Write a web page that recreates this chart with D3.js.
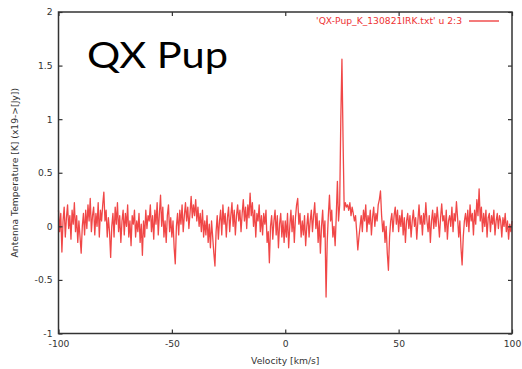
<!DOCTYPE html>
<html>
<head>
<meta charset="utf-8">
<script src="https://cdn.jsdelivr.net/npm/d3@7"></script>
<style>
  body { margin: 0; background: #fff; }
  svg { display: block; }
  .tick-label { font-family: "DejaVu Sans", "Liberation Sans", sans-serif; font-size: 9.2px; fill: #333; }
</style>
</head>
<body>
<svg class="svg"></svg>
<script>
// velocity grid: -100 .. 100 km/s in 0.5 km/s channels
const vStart = -100;
const vStep = 0.5;

// antenna temperature per channel (20 channels per row = 10 km/s)
const temps = [
  0.15, -0.05, 0.12, -0.24, 0.05, 0.18, -0.1, 0.08, 0.2, -0.02, 0.1, -0.12, 0.15, 0.02, 0.22, -0.05, 0.1, -0.15, 0.05, -0.1,
  -0.25, 0.0, 0.12, -0.08, 0.15, -0.02, 0.2, 0.05, 0.26, -0.05, 0.1, 0.18, -0.08, 0.12, 0.0, 0.22, -0.1, 0.15, 0.05, 0.2,
  0.32, 0.05, 0.15, -0.1, 0.08, -0.05, -0.29, 0.0, 0.12, -0.1, 0.18, 0.02, 0.22, -0.05, 0.1, -0.15, 0.05, 0.15, -0.08, 0.12,
  0.0, 0.2, -0.1, 0.05, -0.18, 0.1, 0.02, 0.15, -0.1, 0.05, -0.05, 0.12, -0.15, 0.02, -0.27, 0.05, -0.1, 0.15, -0.02, 0.1,
  0.05, 0.2, -0.05, 0.1, -0.12, 0.15, 0.02, 0.22, -0.08, 0.12, 0.29, 0.0, 0.18, -0.1, 0.05, -0.15, 0.1, 0.2, -0.05, 0.08,
  -0.1, 0.05, -0.2, -0.35, 0.0, 0.12, -0.08, 0.15, 0.02, 0.2, -0.05, 0.1, 0.22, 0.05, 0.18, -0.02, 0.12, 0.28, 0.08, 0.2,
  0.1, 0.25, 0.05, 0.18, 0.0, 0.12, -0.05, 0.15, -0.1, 0.05, -0.08, 0.1, -0.15, 0.02, -0.2, 0.05, -0.1, -0.25, -0.37, -0.05,
  0.1, -0.12, 0.05, 0.15, -0.08, 0.2, 0.02, 0.12, -0.1, 0.08, 0.18, -0.05, 0.1, 0.22, 0.0, 0.15, -0.08, 0.1, 0.2, 0.05,
  0.15, -0.05, 0.12, 0.25, 0.05, 0.18, -0.02, 0.2, 0.08, 0.31, 0.1, 0.22, 0.0, 0.15, -0.1, 0.12, 0.05, 0.2, -0.05, 0.1,
  -0.08, 0.12, 0.02, 0.15, -0.15, -0.05, -0.34, 0.0, 0.1, -0.12, 0.05, 0.15, -0.08, 0.1, -0.2, 0.02, 0.12, -0.1, 0.05, -0.15,
  0.05, -0.1, 0.12, -0.2, 0.0, 0.15, -0.05, 0.1, -0.15, 0.08, 0.2, 0.26, 0.02, 0.12, -0.1, 0.05, -0.08, 0.1, -0.18, 0.0,
  0.12, -0.1, 0.05, 0.15, -0.05, 0.1, 0.22, -0.02, 0.12, -0.15, 0.05, -0.25, 0.0, 0.15, -0.1, 0.05, -0.66, -0.15, 0.1, 0.29,
  0.05, 0.15, -0.1, 0.0, -0.18, 0.1, 0.42, 0.05, 0.2, 1.0, 1.56, 0.8, 0.15, 0.22, 0.18, 0.2, 0.15, 0.22, 0.1, 0.18,
  0.12, 0.05, 0.1, -0.05, -0.22, -0.1, 0.0, 0.1, -0.05, 0.15, 0.05, 0.2, -0.05, 0.1, 0.02, 0.15, -0.08, 0.08, 0.18, 0.0,
  0.12, 0.05, 0.2, 0.25, 0.33, 0.1, -0.05, 0.05, -0.15, 0.0, -0.25, -0.41, -0.1, 0.05, 0.12, -0.05, 0.1, 0.18, 0.02, 0.15,
  -0.05, 0.1, 0.0, 0.15, -0.08, 0.08, -0.15, 0.05, 0.12, -0.02, 0.1, -0.1, 0.05, 0.15, 0.0, 0.08, -0.12, 0.05, 0.2, 0.02,
  0.1, -0.08, 0.12, 0.02, 0.22, 0.05, -0.05, 0.1, -0.15, 0.05, 0.15, -0.02, 0.12, 0.0, 0.18, 0.05, -0.1, 0.08, 0.21, 0.05,
  0.1, -0.05, 0.15, -0.12, 0.05, 0.1, 0.0, 0.18, -0.05, 0.12, 0.05, 0.23, 0.08, -0.1, 0.05, -0.2, -0.36, -0.1, 0.05, 0.12,
  0.0, 0.15, -0.05, 0.2, 0.05, 0.12, -0.08, 0.15, 0.02, 0.25, 0.1, 0.35, 0.05, 0.18, -0.05, 0.12, 0.0, 0.15, -0.1, 0.08,
  0.12, -0.05, 0.1, 0.02, 0.15, -0.08, 0.05, 0.12, -0.02, 0.1, 0.05, -0.1, 0.08, 0.0, 0.12, -0.05, 0.05, -0.12, 0.02, -0.05,
  0.05
];

const xTicks = [-100, -50, 0, 50, 100];
const yTicks = [-1, -0.5, 0, 0.5, 1, 1.5, 2];

const title = 'QX Pup';
const legendLabel = "'QX-Pup_K_130821IRK.txt' u 2:3";
const xLabel = 'Velocity [km/s]';
const yLabel = 'Antenna Temperature [K] (x19->[Jy])';

const width = 522;
const height = 369;
const margin = { top: 12, right: 10, bottom: 35.5, left: 58.5 };

const lineColor = '#ee3333';
const axisColor = '#333';

// gnuplot prints a plain hyphen for negatives
const fmt = d3.formatLocale({ decimal: '.', thousands: ',', grouping: [3], currency: ['', ''], minus: '-' }).format('');

const svg = d3.select('.svg')
  .attr('width', width)
  .attr('height', height);

const x = d3.scaleLinear()
  .domain([-100, 100])
  .range([margin.left, width - margin.right]);

const y = d3.scaleLinear()
  .domain([-1, 2])
  .range([height - margin.bottom, margin.top]);

const points = temps.map((t, i) => ({ v: vStart + i * vStep, t }));

// spectrum
const line = d3.line()
  .x(d => x(d.v))
  .y(d => y(d.t));

svg.append('path')
  .datum(points)
  .attr('fill', 'none')
  .attr('stroke', lineColor)
  .attr('stroke-width', 1.3)
  .attr('stroke-opacity', 0.9)
  .attr('stroke-linejoin', 'round')
  .attr('d', line);

// axes, gnuplot style: ticks inside, mirrored on all four sides
const tickLen = 4;
const [x0, x1] = x.range();
const [y0, y1] = y.range();

const axBottom = svg.append('g').attr('transform', `translate(0,${y0})`)
  .call(d3.axisBottom(x).tickValues(xTicks).tickSize(-tickLen).tickPadding(5).tickFormat(fmt));
const axTop = svg.append('g').attr('transform', `translate(0,${y1})`)
  .call(d3.axisTop(x).tickValues(xTicks).tickSize(-tickLen).tickFormat(''));
const axLeft = svg.append('g').attr('transform', `translate(${x0},0)`)
  .call(d3.axisLeft(y).tickValues(yTicks).tickSize(-tickLen).tickPadding(6).tickFormat(fmt));
const axRight = svg.append('g').attr('transform', `translate(${x1},0)`)
  .call(d3.axisRight(y).tickValues(yTicks).tickSize(-tickLen).tickFormat(''));

[axBottom, axTop, axLeft, axRight].forEach(g => {
  g.select('.domain').remove();
  g.selectAll('.tick line').attr('stroke', axisColor).attr('stroke-width', 1.2);
  g.selectAll('.tick text').attr('class', 'tick-label').attr('fill', null);
  g.attr('font-family', null).attr('font-size', null);
});
axBottom.selectAll('.tick text').attr('dy', '0.9em');

svg.append('rect')
  .attr('x', x0)
  .attr('y', y1)
  .attr('width', x1 - x0)
  .attr('height', y0 - y1)
  .attr('fill', 'none')
  .attr('stroke', axisColor)
  .attr('stroke-width', 1.5);

// axis titles
svg.append('text')
  .attr('class', 'tick-label')
  .attr('x', (x0 + x1) / 2)
  .attr('y', 364)
  .attr('text-anchor', 'middle')
  .text(xLabel);

svg.append('text')
  .attr('class', 'tick-label')
  .attr('transform', `translate(18,${(y0 + y1) / 2}) rotate(-90)`)
  .attr('text-anchor', 'middle')
  .text(yLabel);

// key
const legend = svg.append('g').attr('transform', 'translate(462,21)');
legend.append('text')
  .attr('class', 'tick-label')
  .style('fill', lineColor)
  .attr('text-anchor', 'end')
  .attr('dy', '0.35em')
  .text(legendLabel);
legend.append('line')
  .attr('x1', 7).attr('x2', 37)
  .attr('stroke', lineColor)
  .attr('stroke-width', 1.3);

// big overlay title
svg.append('text')
  .attr('x', 87)
  .attr('y', 68)
  .attr('font-family', 'Lato, "Open Sans", sans-serif')
  .attr('font-size', 37)
  .attr('textLength', 141)
  .attr('lengthAdjust', 'spacingAndGlyphs')
  .attr('fill', '#000')
  .text(title);
</script>
</body>
</html>
